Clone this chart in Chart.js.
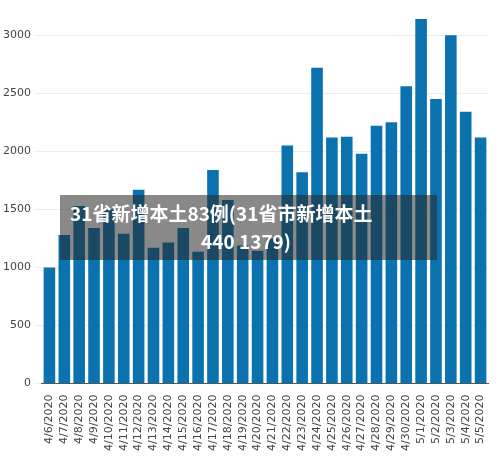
<!DOCTYPE html>
<html>
<head>
<meta charset="utf-8">
<script src="https://cdn.jsdelivr.net/npm/chart.js@4"></script>
<style>
  body { margin: 0; background: #fff; }
  #wrap { width: 500px; height: 456px; }
</style>
</head>
<body>
<div id="wrap"><canvas id="chart"></canvas></div>
<script>
// daily values
const dates = ["4/6/2020","4/7/2020","4/8/2020","4/9/2020","4/10/2020","4/11/2020","4/12/2020","4/13/2020","4/14/2020","4/15/2020",
  "4/16/2020","4/17/2020","4/18/2020","4/19/2020","4/20/2020","4/21/2020","4/22/2020","4/23/2020","4/24/2020","4/25/2020",
  "4/26/2020","4/27/2020","4/28/2020","4/29/2020","4/30/2020","5/1/2020","5/2/2020","5/3/2020","5/4/2020","5/5/2020"];
const counts = [1000, 1280, 1530, 1340, 1500, 1290, 1670, 1170, 1215, 1340,
  1135, 1840, 1580, 1190, 1145, 1250, 2050, 1820, 2720, 2120,
  2125, 1980, 2220, 2250, 2560, 3140, 2450, 3000, 2340, 2120];
const yTicks = [0, 500, 1000, 1500, 2000, 2500, 3000];
const captionLines = ["31省新增本土83例(31省市新增本土", "440 1379)"];

// dark caption band over the chart
const caption = {
  id: "caption",
  afterDraw(chart) {
    const c = chart.ctx;
    c.save();
    c.fillStyle = "rgba(40,40,40,0.55)";
    c.fillRect(60, 195, 377, 65);
    c.fillStyle = "#fff";
    c.font = "bold 19px 'Noto Sans CJK SC'";
    c.textBaseline = "middle";
    c.fillText(captionLines[0], 70, 214);
    c.textAlign = "center";
    c.fillText(captionLines[1], 246, 242);
    c.restore();
  }
};

new Chart(document.getElementById("chart"), {
  type: "bar",
  data: {
    labels: dates,
    datasets: [{
      data: counts,
      backgroundColor: "#0b72b0",
      barPercentage: 0.78,
      categoryPercentage: 1.0
    }]
  },
  options: {
    responsive: true,
    maintainAspectRatio: false,
    animation: false,
    layout: { padding: { top: 12, right: 12, bottom: 2 } },
    plugins: { legend: { display: false }, tooltip: { enabled: false } },
    scales: {
      x: {
        grid: { display: false },
        border: { color: "#555" },
        ticks: { color: "#444", font: { size: 11, family: "DejaVu Sans" }, minRotation: 90, maxRotation: 90, autoSkip: false }
      },
      y: {
        min: 0,
        max: 3200,
        afterBuildTicks(axis) { axis.ticks = yTicks.map(v => ({ value: v })); },
        grid: { color: "#eee" },
        border: { display: false },
        ticks: { color: "#444", font: { size: 11, family: "DejaVu Sans" }, callback: v => String(v) }
      }
    }
  },
  plugins: [caption]
});
</script>
</body>
</html>
